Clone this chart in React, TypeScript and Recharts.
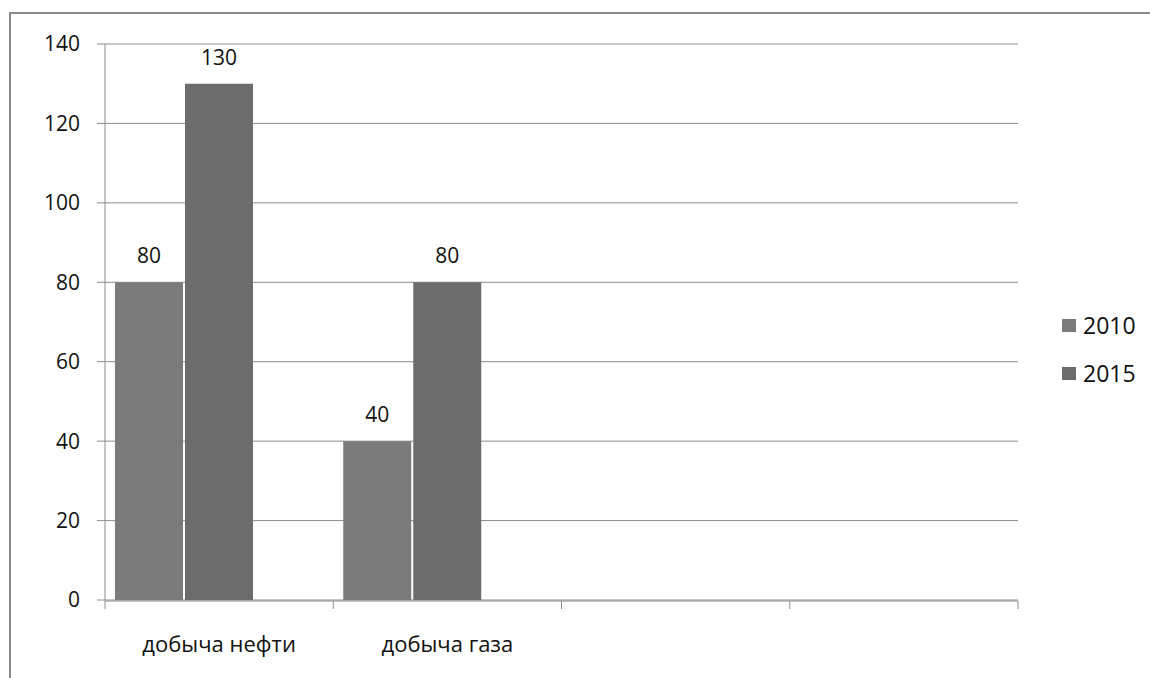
import React from "react";
import {
  BarChart,
  Bar,
  XAxis,
  YAxis,
  CartesianGrid,
  LabelList,
} from "recharts";

const categories = ["добыча нефти", "добыча газа", "", ""];
const values2010 = [80, 40, null, null];
const values2015 = [130, 80, null, null];
const values3 = [null, null, null, null]; // empty third series (keeps Excel-like spacing)
const seriesNames = ["2010", "2015"];
const seriesColors = ["#7b7b7b", "#6c6c6c"];
const yTicks = [0, 20, 40, 60, 80, 100, 120, 140];
const boundaryTicks = [0, 1, 2, 3, 4];

const FONT = "'Open Sans', 'DejaVu Sans', sans-serif";
const GRID = "#8c8c8c";
const TEXT = "#111";

export default function App() {
  const data = categories.map((name, i) => ({
    name,
    idx: i + 0.5,
    s2010: values2010[i],
    s2015: values2015[i],
    s3: values3[i],
  }));

  return (
    <div
      style={{
        position: "fixed",
        left: 0,
        top: 0,
        width: 1150,
        height: 678,
        overflow: "hidden",
        background: "#fff",
        fontFamily: FONT,
      }}
    >
      <div
        style={{
          position: "absolute",
          left: 9,
          top: 12,
          width: 1300,
          height: 800,
          border: "2px solid #8a8a8a",
        }}
      />
      <div style={{ position: "absolute", left: 0, top: 0 }}>
        <BarChart
          width={1150}
          height={678}
          data={data}
          margin={{ top: 44, right: 132, bottom: 76, left: 0 }}
          barCategoryGap={10}
          barGap={2}
        >
          <CartesianGrid horizontal vertical={false} stroke={GRID} strokeWidth={1} />
          <XAxis
            xAxisId="edge"
            type="number"
            dataKey="idx"
            domain={[0, 4]}
            ticks={boundaryTicks}
            height={1}
            stroke={GRID}
            tickSize={8}
            tickFormatter={() => ""}
            allowDataOverflow
          />
          <XAxis
            xAxisId="cat"
            dataKey="name"
            height={1}
            axisLine={false}
            tickLine={false}
            tickSize={0}
            tickMargin={36}
            interval={0}
            tick={{ fill: TEXT, fontSize: 22, fontFamily: FONT }}
          />
          <YAxis
            width={105}
            domain={[0, 140]}
            ticks={yTicks}
            interval={0}
            stroke={GRID}
            tickSize={8}
            tickMargin={17}
            tick={{ fill: TEXT, fontSize: 21, fontFamily: FONT }}
          />
          <Bar
            xAxisId="cat"
            dataKey="s2010"
            name={seriesNames[0]}
            fill={seriesColors[0]}
            isAnimationActive={false}
          >
            <LabelList
              dataKey="s2010"
              position="top"
              offset={19}
              style={{ fill: TEXT, fontSize: 21, fontFamily: FONT }}
            />
          </Bar>
          <Bar
            xAxisId="cat"
            dataKey="s2015"
            name={seriesNames[1]}
            fill={seriesColors[1]}
            isAnimationActive={false}
          >
            <LabelList
              dataKey="s2015"
              position="top"
              offset={19}
              style={{ fill: TEXT, fontSize: 21, fontFamily: FONT }}
            />
          </Bar>
          <Bar
            xAxisId="cat"
            dataKey="s3"
            fill="#999"
            legendType="none"
            isAnimationActive={false}
          />
        </BarChart>
      </div>
      {seriesNames.map((s, i) => (
        <div
          key={s}
          style={{
            position: "absolute",
            left: 1062,
            top: 310 + i * 48,
            display: "flex",
            alignItems: "center",
            fontSize: 23,
            lineHeight: "30px",
            color: TEXT,
          }}
        >
          <span
            style={{
              display: "inline-block",
              width: 14,
              height: 13,
              background: seriesColors[i],
              marginRight: 7,
            }}
          />
          {s}
        </div>
      ))}
    </div>
  );
}
